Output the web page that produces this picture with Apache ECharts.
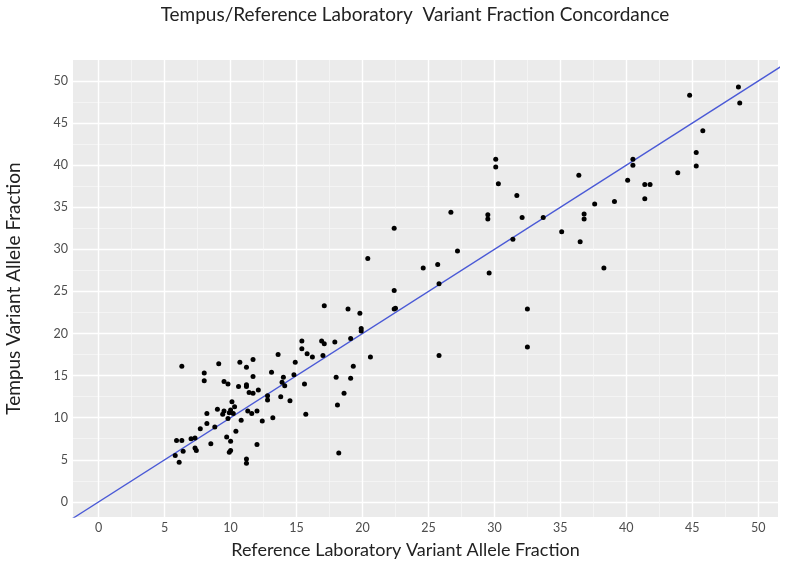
<!DOCTYPE html>
<html><head><meta charset="utf-8">
<script src="https://cdn.jsdelivr.net/npm/echarts@6/dist/echarts.min.js"></script>
<style>html,body{margin:0;padding:0;background:#fff}#c{width:789px;height:571px}</style>
</head><body><div id="c"></div>
<script>
const chartTitle = 'Tempus/Reference Laboratory  Variant Fraction Concordance';
const xTitle = 'Reference Laboratory Variant Allele Fraction';
const yTitle = 'Tempus Variant Allele Fraction';

const referenceVAF = [
48.5,48.6,44.8,45.8,45.3,45.3,43.9,40.5,40.5,40.1,41.4,41.8,41.4,36.4,39.1,37.6,36.8,36.8,35.1,36.5,38.3,
30.1,30.1,30.3,31.7,26.7,29.5,29.5,32.1,33.7,31.4,27.2,24.6,25.7,25.8,29.6,32.5,32.5,25.8,22.4,22.4,22.4,22.5,
20.4,17.1,18.9,19.8,19.9,19.9,19.1,20.6,15.4,16.9,17.1,17.9,15.4,15.8,16.2,17.0,13.6,11.7,14.9,19.3,13.1,11.7,14.0,14.8,18.0,19.1,13.9,14.1,15.6,12.1,11.4,11.7,12.8,12.8,13.8,14.5,18.6,18.1,11.6,12.0,15.7,13.2,18.2,
6.3,8.0,8.0,9.1,10.7,11.2,9.5,9.8,11.2,11.2,10.6,10.1,10.3,9.0,9.5,8.2,9.9,9.4,10.0,10.2,9.8,11.3,10.8,12.4,8.2,7.7,8.8,
10.4,9.7,10.0,7.0,7.3,5.9,6.3,7.3,7.4,8.5,6.4,5.8,6.1,9.9,10.0,11.2,11.2,12.0
];
const tempusVAF = [
49.3,47.4,48.3,44.1,41.5,39.9,39.1,40.7,40.0,38.2,37.7,37.7,36.0,38.8,35.7,35.4,34.2,33.6,32.1,30.9,27.8,
40.7,39.8,37.8,36.4,34.4,34.1,33.6,33.8,33.8,31.2,29.8,27.8,28.2,25.9,27.2,22.9,18.4,17.4,32.5,25.1,22.9,23.0,
28.9,23.3,22.9,22.4,20.6,20.3,19.4,17.2,19.1,19.1,18.8,19.0,18.2,17.6,17.2,17.4,17.5,16.9,16.6,16.1,15.4,14.9,14.8,15.1,14.8,14.7,14.2,13.8,14.0,13.3,13.0,12.9,12.6,12.1,12.5,12.0,12.9,11.5,10.5,10.8,10.4,10.0,5.8,
16.1,15.3,14.4,16.4,16.6,16.0,14.3,14.0,13.9,13.7,13.7,11.9,11.3,11.0,10.8,10.5,10.6,10.4,10.9,10.5,9.9,10.8,9.7,9.6,9.3,8.7,8.9,
8.4,7.7,7.2,7.5,7.6,7.3,7.3,6.4,6.1,6.9,6.0,5.5,4.7,5.9,6.1,5.1,4.6,6.8
];
const identityLine = [-5, 60];
const majorTicks = [0,5,10,15,20,25,30,35,40,45,50];
const minorTicks = [2.5,7.5,12.5,17.5,22.5,27.5,32.5,37.5,42.5,47.5];

const points = referenceVAF.map((v, i) => [v, tempusVAF[i]]);
const linePts = identityLine.map(v => [v, v]);

const FONT = 'Lato, "Open Sans", sans-serif';
const XMIN = -1.95, XMAX = 51.5, YMIN = -1.8, YMAX = 52.5;

function axisPair(dir) {
  const isX = dir === 'x';
  const min = isX ? XMIN : YMIN, max = isX ? XMAX : YMAX;
  return [
    {
      type: 'value', min, max,
      position: isX ? 'bottom' : 'left',
      axisLine: {show: false},
      axisTick: {show: false, customValues: majorTicks},
      axisLabel: {customValues: majorTicks, color: '#4d4d4d', fontSize: 12.5, fontFamily: FONT, margin: isX ? 4 : 5},
      splitLine: {show: true, lineStyle: {color: '#ffffff', width: 1.4}},
      name: isX ? xTitle : yTitle,
      nameLocation: 'middle',
      nameGap: isX ? 24 : 50,
      nameTextStyle: isX
        ? {fontSize: 18, color: '#222', fontFamily: FONT, padding: [0, 40, 0, 0]}
        : {fontSize: 19, color: '#222', fontFamily: FONT}
    },
    {
      type: 'value', min, max,
      position: isX ? 'bottom' : 'left',
      axisLine: {show: false},
      axisTick: {show: false, customValues: minorTicks},
      axisLabel: {show: false, customValues: minorTicks},
      splitLine: {show: true, lineStyle: {color: '#f8f8f8', width: 0.7}}
    }
  ];
}

const chart = echarts.init(document.getElementById('c'), null, {renderer: 'canvas'});
chart.setOption({
  animation: false,
  backgroundColor: '#ffffff',
  title: {
    text: chartTitle, left: 410, top: 0, textAlign: 'center',
    textStyle: {fontSize: 19, fontWeight: 'normal', color: '#222', fontFamily: FONT}
  },
  grid: {left: 73, right: 11, top: 60, bottom: 54, show: true, backgroundColor: '#ebebeb', borderWidth: 0,
         containLabel: false, outerBoundsMode: 'none'},
  xAxis: axisPair('x'),
  yAxis: axisPair('y'),
  series: [
    {
      type: 'line', data: linePts, symbol: 'none', clip: true, silent: true,
      lineStyle: {color: '#4a59d6', width: 1.3}, z: 2
    },
    {
      type: 'scatter', data: points, symbolSize: 5, clip: true,
      itemStyle: {color: '#000000', opacity: 1}, z: 3
    }
  ]
});
</script></body></html>
